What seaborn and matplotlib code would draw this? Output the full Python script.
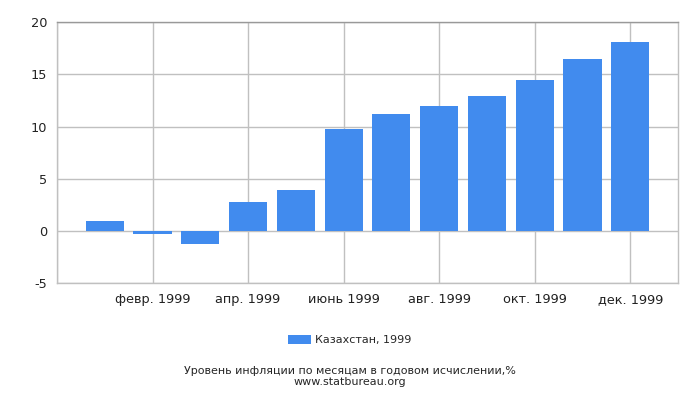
import pandas as pd
import matplotlib.pyplot as plt
import seaborn as sns

# data
months = ["янв. 1999", "февр. 1999", "март 1999", "апр. 1999", "май 1999", "июнь 1999",
          "июль 1999", "авг. 1999", "сент. 1999", "окт. 1999", "нояб. 1999", "дек. 1999"]
inflation = [1.0, -0.3, -1.2, 2.8, 3.9, 9.8, 11.2, 12.0, 12.9, 14.5, 16.5, 18.1]
series_name = "Казахстан, 1999"
yticks = [-5, 0, 5, 10, 15, 20]

df = pd.DataFrame({"month": months, "value": inflation})
df["series"] = series_name

sns.set_style("white")
plt.rcParams["font.family"] = ["DejaVu Sans"]

fig = plt.figure(figsize=(7, 4), dpi=100)
ax = fig.add_axes([0.0814, 0.2917, 0.8872, 0.6526])

sns.barplot(
    data=df,
    x="month",
    y="value",
    hue="series",
    palette=["#418bee"],
    width=0.8,
    saturation=1,
    linewidth=0,
    ax=ax,
)

ax.set_xlim(-1, 12)
ax.set_ylim(-5, 20)
ax.set_yticks(yticks)
ax.set_yticklabels([str(t) for t in yticks], fontsize=9.3, color="#222222")

tick_pos = [-1, 1, 3, 5, 7, 9, 11]
ax.set_xticks(tick_pos)
ax.set_xticklabels([""] + [months[i] for i in tick_pos[1:]], fontsize=9.3, color="#222222")

ax.grid(True, color="#c0c0c0", linewidth=1)
ax.set_axisbelow(True)
ax.tick_params(axis="both", length=5, width=1, color="black", direction="out", pad=2)
for side in ["left", "right", "bottom", "top"]:
    ax.spines[side].set_color("#c0c0c0")
    ax.spines[side].set_linewidth(1)
ax.spines["top"].set_color("#999999")
ax.set_xlabel("")
ax.set_ylabel("")

ax.legend(
    loc="center",
    bbox_to_anchor=(0.5, 1 - 340 / 400),
    bbox_transform=fig.transFigure,
    frameon=False,
    fontsize=8,
    handlelength=2.0,
    handleheight=0.9,
    handletextpad=0.4,
)

fig.text(0.5, 1 - 371 / 400, "Уровень инфляции по месяцам в годовом исчислении,%",
         ha="center", va="center", fontsize=8)
fig.text(0.5, 1 - 382 / 400, "www.statbureau.org", ha="center", va="center", fontsize=8)

plt.savefig("out.png", dpi=100)
